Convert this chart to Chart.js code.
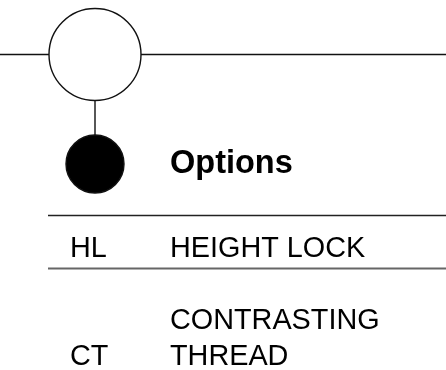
<!DOCTYPE html>
<html>
<head>
<meta charset="utf-8">
<script src="https://cdn.jsdelivr.net/npm/chart.js@4.4.1/dist/chart.umd.min.js"></script>
<style>
  html, body { margin: 0; padding: 0; background: #fff; }
  #wrap { width: 446px; height: 370px; }
</style>
</head>
<body>
<div id="wrap"><canvas id="optionsChart" width="446" height="370"></canvas></div>
<script>
// diagram content
const title = "Options";
const nodeKinds = ["open", "filled"];
const rowCodes = ["HL", "CT"];
const rowLabels = [["HEIGHT LOCK"], ["CONTRASTING", "THREAD"]];

// layout in plot units (the scales map 1 unit to 1px)
const W = 446, H = 370;
const trackY = 54.5;
const nodeX = 95;
const nodeY = [54.5, 164];
const nodeR = [46, 29];
const tableLeft = 48;
const ruleY = [215.5, 268.5];
const codeX = 70;
const labelX = 170;
const rowBaselines = [[257], [329, 365]];
const FONT = "'Liberation Sans', Arial, sans-serif";

const nodes = nodeKinds.map((k, i) => ({ x: nodeX, y: nodeY[i] }));

const textPlugin = {
  id: "tableText",
  afterDatasetsDraw(chart) {
    const { ctx, scales: { x, y } } = chart;
    ctx.save();
    ctx.fillStyle = "#000";
    ctx.textBaseline = "alphabetic";
    ctx.font = "bold 32.5px " + FONT;
    ctx.fillText(title, x.getPixelForValue(labelX), y.getPixelForValue(173));
    ctx.font = "28.8px " + FONT;
    rowCodes.forEach((code, i) => {
      const lines = rowLabels[i];
      const bases = rowBaselines[i];
      ctx.fillText(code, x.getPixelForValue(codeX), y.getPixelForValue(bases[bases.length - 1]));
      lines.forEach((t, j) => {
        ctx.fillText(t, x.getPixelForValue(labelX), y.getPixelForValue(bases[j]));
      });
    });
    ctx.restore();
  }
};

const rule = (y0, color, width) => ({
  type: "line",
  data: [{ x: tableLeft, y: y0 }, { x: W, y: y0 }],
  borderColor: color,
  borderWidth: width,
  pointRadius: 0,
  clip: false,
  order: 3
});

new Chart(document.getElementById("optionsChart"), {
  type: "scatter",
  data: {
    datasets: [
      {
        // nodes
        data: nodes,
        pointRadius: nodeR,
        pointHoverRadius: nodeR,
        pointBackgroundColor: nodeKinds.map(k => k === "filled" ? "#000" : "#fff"),
        pointBorderColor: "#111",
        pointBorderWidth: 1.4,
        showLine: false,
        clip: false,
        order: 1
      },
      {
        // track line
        type: "line",
        data: [{ x: 0, y: trackY }, { x: W, y: trackY }],
        borderColor: "#111",
        borderWidth: 1.4,
        pointRadius: 0,
        clip: false,
        order: 3
      },
      {
        // connector
        type: "line",
        data: nodes,
        borderColor: "#111",
        borderWidth: 1.4,
        pointRadius: 0,
        clip: false,
        order: 3
      },
      rule(ruleY[0], "#222", 1.4),
      rule(ruleY[1], "#666", 2)
    ]
  },
  options: {
    responsive: false,
    animation: false,
    events: [],
    layout: { padding: 0, autoPadding: false },
    plugins: { legend: { display: false }, tooltip: { enabled: false } },
    scales: {
      x: { type: "linear", min: 0, max: W, display: false },
      y: { type: "linear", min: 0, max: H, reverse: true, display: false }
    }
  },
  plugins: [textPlugin]
});
</script>
</body>
</html>
